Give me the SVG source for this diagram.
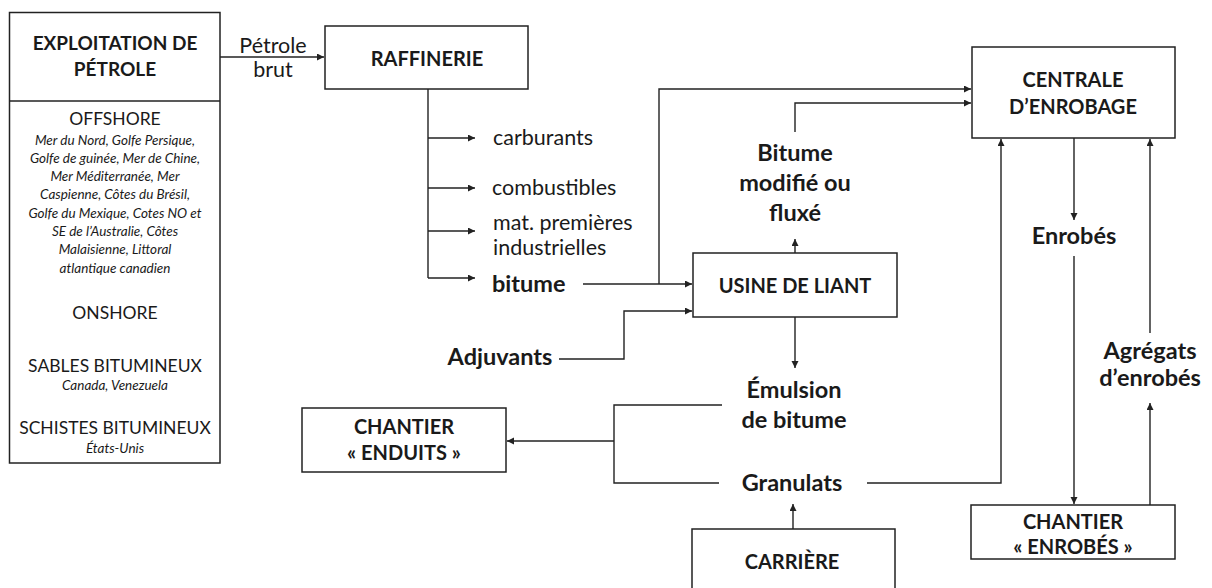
<svg xmlns="http://www.w3.org/2000/svg" width="1212" height="588" viewBox="0 0 1212 588">
<defs>
<marker id="ah" markerUnits="userSpaceOnUse" markerWidth="8" markerHeight="8" refX="7" refY="3.5" orient="auto">
<path d="M0,0 L7,3.5 L0,7 z" fill="#222"/>
</marker>
<style>
text{font-family:"Lato","Open Sans",sans-serif;fill:#1a1a1a;text-anchor:middle}
.box{fill:#fff;stroke:#222;stroke-width:1.5}
.bl{font-weight:bold;font-size:20px}
.tt{font-size:19px}
.fb{font-weight:bold;font-size:23.5px}
.fr{font-size:21.5px}
.cap{font-size:17.5px}
.it{font-style:italic;font-size:13.5px}
.st{text-anchor:start}
.c{fill:none;stroke:#222;stroke-width:1.4}
.a{marker-end:url(#ah)}
</style>
</defs>
<rect width="1212" height="588" fill="#fff"/>

<g id="connectors">
<path class="c a" d="M220,57 H324"/>
<path class="c" d="M428,89 V278"/>
<path class="c a" d="M428,138 H475"/>
<path class="c a" d="M428,188 H475"/>
<path class="c a" d="M428,231 H475"/>
<path class="c a" d="M428,278 H475"/>
<path class="c a" d="M583,284 H692"/>
<path class="c a" d="M659,284 V89 H971"/>
<path class="c a" d="M795,132 V103 H971"/>
<path class="c a" d="M795,253 V239"/>
<path class="c a" d="M559,359 H624 V311 H692"/>
<path class="c a" d="M795,317 V368"/>
<path class="c" d="M722,405 H614 V483 H719"/>
<path class="c a" d="M614,441 H507"/>
<path class="c a" d="M867,483 H1001 V139"/>
<path class="c a" d="M793,529 V504"/>
<path class="c a" d="M1074,138 V220"/>
<path class="c a" d="M1074,256 V504"/>
<path class="c a" d="M1150,333 V139"/>
<path class="c a" d="M1150,505 V403"/>
</g>

<g id="exploitation">
<rect class="box" x="9.5" y="12.5" width="210.5" height="450.5"/>
<line x1="9.5" y1="101" x2="220" y2="101" stroke="#222" stroke-width="1.5"/>
<text class="bl tt" x="115" y="49.5">EXPLOITATION DE</text>
<text class="bl tt" x="115" y="76">PÉTROLE</text>
<text class="cap" x="115" y="124.5">OFFSHORE</text>
<text class="it" x="115" y="145">Mer du Nord, Golfe Persique,</text>
<text class="it" x="115" y="163">Golfe de guinée, Mer de Chine,</text>
<text class="it" x="115" y="181">Mer Méditerranée, Mer</text>
<text class="it" x="115" y="199">Caspienne, Côtes du Brésil,</text>
<text class="it" x="115" y="217.5">Golfe du Mexique, Cotes NO et</text>
<text class="it" x="115" y="236">SE de l’Australie, Côtes</text>
<text class="it" x="115" y="254">Malaisienne, Littoral</text>
<text class="it" x="115" y="272.5">atlantique canadien</text>
<text class="cap" x="115" y="318.5">ONSHORE</text>
<text class="cap" x="115" y="371.5">SABLES BITUMINEUX</text>
<text class="it" x="115" y="390">Canada, Venezuela</text>
<text class="cap" x="115" y="433.5">SCHISTES BITUMINEUX</text>
<text class="it" x="115" y="453">États-Unis</text>
</g>

<g id="petrole-brut">
<text class="fr" x="273" y="53">Pétrole</text>
<text class="fr" x="273" y="77">brut</text>
</g>

<g id="raffinerie">
<rect class="box" x="325" y="26" width="203" height="63"/>
<text class="bl" x="427" y="66">RAFFINERIE</text>
</g>

<g id="carburants"><text class="fr st" x="493" y="145">carburants</text></g>
<g id="combustibles"><text class="fr st" x="492" y="195">combustibles</text></g>
<g id="mat-premieres">
<text class="fr st" x="493" y="230">mat. premières</text>
<text class="fr st" x="493" y="255">industrielles</text>
</g>
<g id="bitume"><text class="fb st" x="492" y="292">bitume</text></g>

<g id="usine">
<rect class="box" x="693" y="253" width="204" height="64"/>
<text class="bl" x="795" y="293">USINE DE LIANT</text>
</g>

<g id="bitume-modifie">
<text class="fb" x="795" y="161">Bitume</text>
<text class="fb" x="795" y="191">modifié ou</text>
<text class="fb" x="795" y="221">fluxé</text>
</g>

<g id="adjuvants"><text class="fb" x="500" y="365">Adjuvants</text></g>

<g id="emulsion">
<text class="fb" x="794" y="398">Émulsion</text>
<text class="fb" x="794" y="428">de bitume</text>
</g>

<g id="granulats"><text class="fb" x="792" y="491">Granulats</text></g>

<g id="chantier-enduits">
<rect class="box" x="302" y="408" width="204" height="64"/>
<text class="bl" x="404" y="434">CHANTIER</text>
<text class="bl" x="404" y="460">« ENDUITS »</text>
</g>

<g id="carriere">
<rect class="box" x="692" y="529" width="203" height="80"/>
<text class="bl" x="792" y="569">CARRIÈRE</text>
</g>

<g id="centrale">
<rect class="box" x="972" y="47" width="203" height="91"/>
<text class="bl" x="1073" y="87">CENTRALE</text>
<text class="bl" x="1073" y="114">D’ENROBAGE</text>
</g>

<g id="enrobes"><text class="fb" x="1074" y="244">Enrobés</text></g>

<g id="agregats">
<text class="fb" x="1150" y="359">Agrégats</text>
<text class="fb" x="1150" y="386">d’enrobés</text>
</g>

<g id="chantier-enrobes">
<rect class="box" x="971" y="505" width="204" height="54"/>
<text class="bl" x="1073" y="529">CHANTIER</text>
<text class="bl" x="1073" y="554">« ENROBÉS »</text>
</g>
</svg>
